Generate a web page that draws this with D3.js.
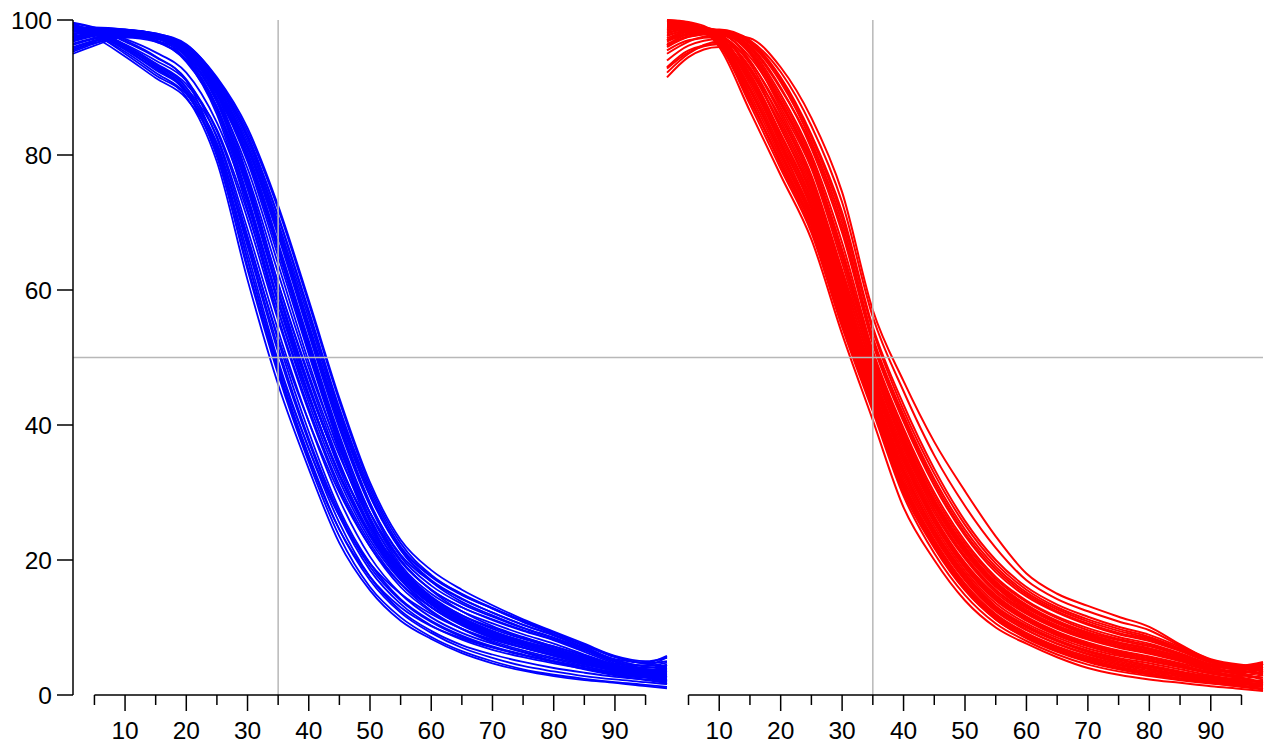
<!DOCTYPE html>
<html>
<head>
<meta charset="utf-8">
<script src="https://cdn.jsdelivr.net/npm/d3@7"></script>
<style>
  body { margin: 0; background: #fff; }
  svg { display: block; }
  text { font-family: "Liberation Sans", Arial, Helvetica, sans-serif; fill: #000; }
</style>
</head>
<body>
<svg id="chart" width="1266" height="747"></svg>
<script>
// Sample positions shared by every curve
const xValues = [1.5, 5, 10, 15, 20, 25, 30, 35, 40, 45, 50, 55, 60, 65, 70, 75, 80, 85, 90, 95, 98.5];

const yTickValues = [0, 20, 40, 60, 80, 100];
const xMajorTicks = [10, 20, 30, 40, 50, 60, 70, 80, 90];
const xMinorTicks = [5, 15, 25, 35, 45, 55, 65, 75, 85, 95];
const refX = 35;
const refY = 50;

// Blue runs (left panel)
const blueCurves = [
  [99.0, 97.9, 95.0, 91.8, 88.6, 79.0, 61.5, 46.0, 33.5, 22.5, 15.5, 11.0, 8.3, 6.2, 4.7, 3.6, 2.8, 2.2, 1.8, 1.3, 1.0],
  [99.4, 98.3, 96.0, 93.0, 89.5, 80.0, 63.0, 47.5, 34.5, 23.5, 16.0, 11.5, 8.6, 6.5, 5.0, 3.8, 3.0, 2.4, 1.9, 1.5, 1.2],
  [98.8, 98.0, 95.8, 93.2, 89.2, 80.5, 64.5, 48.5, 35.5, 24.5, 17.0, 12.2, 9.2, 7.0, 5.5, 4.3, 3.5, 2.8, 2.3, 1.9, 1.6],
  [99.2, 98.5, 96.3, 93.5, 90.0, 81.0, 65.5, 49.5, 36.5, 25.5, 17.5, 12.5, 9.5, 7.4, 6.0, 4.9, 4.0, 3.3, 2.7, 2.3, 2.0],
  [98.6, 97.8, 95.3, 92.2, 89.0, 81.5, 66.5, 50.8, 37.5, 26.5, 18.5, 13.5, 10.3, 8.2, 6.7, 5.6, 4.7, 3.9, 3.2, 2.6, 2.2],
  [99.5, 98.8, 96.8, 94.5, 91.2, 82.5, 68.0, 52.5, 39.0, 27.5, 19.5, 14.2, 11.0, 8.8, 7.2, 6.0, 5.0, 4.0, 3.2, 2.6, 2.4],
  [99.0, 98.2, 96.0, 93.3, 90.0, 82.8, 69.0, 54.0, 40.5, 29.0, 20.5, 15.0, 11.5, 9.2, 7.6, 6.4, 5.3, 4.3, 3.4, 3.2, 3.6],
  [98.9, 98.4, 96.4, 94.0, 91.0, 83.5, 70.5, 55.5, 42.0, 30.5, 22.0, 16.0, 12.3, 9.8, 8.0, 6.6, 5.5, 4.5, 3.6, 3.0, 2.8],
  [99.3, 98.1, 95.6, 92.6, 89.3, 79.8, 63.5, 48.0, 35.0, 24.5, 17.5, 13.0, 10.2, 8.4, 7.0, 5.9, 5.0, 4.2, 3.4, 3.0, 3.3],
  [98.7, 97.9, 95.7, 92.8, 89.6, 81.8, 67.0, 51.5, 38.0, 27.0, 19.0, 14.0, 10.8, 8.6, 7.1, 5.9, 4.9, 3.8, 2.9, 2.2, 1.8],
  [99.6, 98.9, 97.0, 94.6, 91.0, 80.8, 64.5, 49.0, 36.5, 26.5, 19.5, 15.0, 12.0, 9.8, 8.2, 7.0, 6.0, 5.0, 4.0, 3.4, 3.8],
  [98.5, 97.4, 94.6, 91.4, 88.4, 81.0, 67.5, 53.0, 40.5, 30.0, 22.0, 16.5, 13.0, 10.6, 8.8, 7.5, 6.4, 5.3, 4.2, 3.3, 2.7],
  [99.1, 98.3, 96.2, 93.6, 90.5, 83.8, 71.5, 57.0, 44.0, 32.5, 24.0, 18.0, 14.0, 11.3, 9.4, 8.0, 6.8, 5.6, 4.3, 3.6, 3.9],
  [98.9, 98.6, 97.2, 95.2, 92.2, 84.8, 73.0, 58.5, 45.5, 34.0, 25.0, 18.8, 14.6, 11.8, 9.8, 8.3, 7.0, 5.6, 4.2, 3.3, 2.6],
  [95.0, 96.2, 97.5, 97.2, 94.0, 86.0, 72.0, 56.0, 42.5, 31.0, 22.5, 16.5, 12.5, 9.8, 7.8, 6.3, 5.0, 3.9, 3.0, 2.6, 2.8],
  [95.5, 96.8, 97.8, 97.5, 94.5, 87.0, 73.5, 58.0, 44.5, 32.5, 23.5, 17.2, 13.0, 10.3, 8.4, 7.0, 5.8, 4.7, 3.7, 3.5, 4.5],
  [96.0, 97.0, 98.0, 97.7, 95.0, 88.0, 75.0, 59.5, 45.5, 34.0, 25.0, 18.3, 14.0, 11.2, 9.2, 7.6, 6.3, 5.0, 3.8, 3.0, 2.5],
  [95.3, 96.5, 97.6, 97.4, 95.2, 88.5, 76.0, 61.0, 47.5, 35.5, 26.0, 19.0, 14.5, 11.5, 9.5, 7.9, 6.6, 5.4, 4.2, 3.6, 4.0],
  [96.3, 97.2, 97.9, 97.0, 93.8, 86.5, 72.8, 57.0, 43.3, 31.8, 23.0, 17.0, 13.0, 10.4, 8.5, 7.0, 5.8, 4.6, 3.5, 2.6, 1.9],
  [95.8, 96.9, 97.7, 97.3, 95.3, 89.0, 77.0, 62.5, 48.5, 36.5, 27.0, 20.0, 15.5, 12.4, 10.2, 8.6, 7.2, 5.8, 4.4, 3.6, 3.2],
  [95.6, 96.6, 97.4, 96.8, 94.2, 87.2, 74.0, 58.5, 44.5, 32.8, 23.8, 17.5, 13.4, 10.6, 8.6, 7.1, 5.9, 4.8, 3.8, 3.2, 3.6],
  [96.5, 97.3, 97.7, 97.0, 94.6, 87.8, 75.5, 60.0, 46.0, 34.2, 25.0, 18.5, 14.2, 11.4, 9.4, 7.8, 6.5, 5.2, 3.9, 2.9, 2.1],
  [97.0, 97.8, 98.2, 97.8, 96.3, 91.5, 84.0, 72.5, 58.5, 44.0, 31.5, 23.0, 18.5, 15.6, 13.3, 11.2, 9.4, 7.6, 5.8, 5.0, 5.5],
  [97.5, 98.2, 98.4, 97.9, 96.0, 91.0, 83.0, 71.0, 57.0, 42.5, 30.5, 22.0, 17.5, 14.8, 12.8, 10.9, 9.2, 7.4, 5.6, 4.6, 4.2],
  [98.0, 98.4, 98.5, 98.0, 96.2, 90.8, 82.5, 70.0, 55.8, 41.5, 29.5, 21.5, 17.0, 14.3, 12.2, 10.4, 8.8, 7.0, 5.2, 4.3, 4.8],
  [98.3, 98.6, 98.5, 97.8, 95.8, 90.3, 81.5, 69.0, 54.5, 40.5, 28.5, 20.5, 16.2, 13.5, 11.6, 9.9, 8.4, 6.8, 5.0, 3.8, 3.0],
  [96.8, 97.6, 98.1, 97.6, 95.6, 90.0, 81.0, 68.0, 53.5, 39.5, 28.0, 20.0, 15.6, 13.0, 11.2, 9.6, 8.2, 6.6, 4.9, 4.0, 4.5],
  [97.2, 97.9, 98.3, 97.7, 95.5, 89.7, 80.5, 67.0, 52.5, 38.5, 27.0, 19.3, 15.0, 12.4, 10.6, 9.0, 7.6, 6.0, 4.5, 3.4, 2.6],
  [98.6, 98.8, 98.6, 97.9, 95.7, 89.5, 79.8, 66.0, 51.5, 37.5, 26.3, 18.8, 14.4, 11.8, 10.0, 8.5, 7.2, 5.9, 4.6, 4.4, 5.6],
  [97.8, 98.3, 98.4, 97.6, 95.3, 89.0, 79.0, 65.0, 50.5, 36.8, 25.6, 18.2, 13.8, 11.2, 9.4, 8.0, 6.8, 5.5, 4.2, 3.3, 3.0],
  [96.9, 97.7, 98.0, 97.3, 94.8, 88.3, 78.0, 63.8, 49.3, 36.0, 25.0, 17.8, 13.5, 11.0, 9.2, 7.8, 6.6, 5.3, 4.0, 3.0, 2.2],
  [97.6, 98.1, 98.3, 97.7, 96.0, 90.6, 82.0, 69.5, 55.0, 41.0, 29.5, 21.8, 17.6, 15.0, 12.9, 11.0, 9.3, 7.2, 5.3, 4.8, 5.8],
  [98.2, 98.5, 98.4, 97.6, 95.4, 89.6, 80.0, 66.5, 52.0, 38.0, 27.0, 19.8, 15.6, 13.0, 11.1, 9.5, 8.1, 6.4, 4.7, 3.8, 3.9],
  [97.3, 98.0, 98.2, 97.5, 95.0, 88.0, 76.5, 61.0, 47.0, 34.5, 24.5, 17.8, 13.6, 10.9, 9.0, 7.5, 6.2, 5.0, 3.8, 2.8, 2.0],
  [97.9, 98.4, 98.5, 98.0, 96.4, 91.3, 83.5, 72.0, 58.0, 43.5, 31.0, 22.5, 17.8, 14.9, 12.8, 10.8, 9.0, 7.0, 5.0, 3.8, 3.4],
  [98.4, 98.6, 98.0, 96.8, 94.0, 87.0, 75.0, 60.0, 46.0, 33.5, 24.0, 17.5, 13.4, 10.7, 8.8, 7.3, 6.0, 4.8, 3.6, 2.7, 1.6],
  [98.8, 98.9, 98.6, 97.9, 96.2, 91.0, 82.8, 70.8, 56.5, 42.0, 30.0, 21.5, 16.8, 13.8, 11.8, 10.0, 8.5, 6.9, 5.2, 4.2, 4.0],
  [97.0, 97.8, 98.2, 97.5, 95.2, 89.2, 79.5, 65.8, 51.0, 37.0, 25.8, 18.0, 13.6, 10.9, 9.0, 7.6, 6.4, 5.2, 4.0, 3.2, 2.8],
  [97.4, 98.0, 98.2, 97.6, 95.7, 90.2, 81.2, 68.5, 54.0, 40.0, 28.3, 20.8, 16.8, 14.2, 12.2, 10.4, 8.9, 7.4, 5.7, 4.7, 5.0]
];

// Red runs (right panel)
const redCurves = [
  [99.8, 99.5, 96.0, 86.5, 77.0, 67.5, 53.5, 40.7, 27.8, 20.0, 14.0, 10.0, 7.6, 5.6, 4.0, 3.0, 2.3, 1.8, 1.3, 0.9, 0.6],
  [100.0, 99.6, 96.5, 87.5, 78.0, 68.5, 54.5, 42.0, 29.5, 21.0, 14.8, 10.6, 8.0, 6.0, 4.5, 3.5, 2.8, 2.2, 1.7, 1.3, 1.2],
  [99.2, 99.0, 96.8, 88.5, 78.5, 69.0, 55.0, 42.5, 30.0, 21.8, 15.5, 11.2, 8.4, 6.4, 4.9, 3.8, 3.0, 2.4, 1.9, 1.6, 1.8],
  [99.6, 99.4, 97.0, 89.0, 79.5, 70.0, 56.0, 43.0, 31.0, 22.5, 16.0, 11.6, 8.8, 6.8, 5.3, 4.2, 3.4, 2.7, 2.1, 1.6, 1.3],
  [98.5, 99.0, 97.3, 89.8, 80.0, 70.5, 56.8, 43.6, 31.5, 23.0, 16.5, 12.0, 9.2, 7.2, 5.7, 4.6, 3.8, 3.0, 2.3, 1.9, 2.2],
  [93.0, 95.5, 96.5, 91.0, 81.5, 71.0, 57.0, 44.0, 32.0, 23.5, 17.0, 12.4, 9.6, 7.6, 6.1, 5.0, 4.1, 3.3, 2.6, 2.4, 3.0],
  [91.5, 94.5, 96.0, 91.5, 82.0, 72.0, 57.5, 44.5, 33.0, 24.2, 17.5, 12.8, 10.0, 8.0, 6.4, 5.3, 4.4, 3.5, 2.7, 2.0, 1.5],
  [99.9, 99.3, 97.5, 90.5, 81.0, 71.5, 58.0, 45.0, 33.5, 24.5, 18.0, 13.2, 10.3, 8.2, 6.6, 5.5, 4.7, 3.8, 2.9, 2.2, 1.9],
  [97.0, 98.2, 97.8, 92.0, 83.0, 73.0, 59.0, 45.5, 34.0, 25.0, 18.4, 13.6, 10.6, 8.5, 6.9, 5.8, 5.0, 4.1, 3.2, 2.8, 3.6],
  [98.8, 99.0, 97.6, 91.5, 82.5, 72.5, 58.5, 46.0, 34.5, 25.5, 18.8, 14.0, 11.0, 8.8, 7.2, 6.0, 5.1, 4.2, 3.2, 2.5, 2.0],
  [92.2, 95.0, 96.8, 93.0, 84.0, 74.0, 60.0, 46.5, 35.0, 26.0, 19.2, 14.4, 11.3, 9.1, 7.5, 6.3, 5.4, 4.4, 3.4, 2.9, 3.4],
  [99.4, 99.2, 97.9, 92.5, 84.5, 75.0, 61.0, 47.0, 35.5, 26.5, 19.6, 14.8, 11.6, 9.4, 7.8, 6.6, 5.7, 4.7, 3.6, 2.6, 1.7],
  [95.5, 97.0, 97.5, 93.5, 85.0, 75.5, 61.5, 47.5, 36.0, 27.0, 20.2, 15.2, 12.0, 9.8, 8.2, 7.0, 6.1, 5.0, 3.8, 3.4, 4.2],
  [98.0, 98.7, 98.2, 94.0, 86.0, 76.5, 62.5, 48.0, 36.5, 27.5, 20.6, 15.6, 12.4, 10.1, 8.5, 7.3, 6.4, 5.2, 3.9, 3.0, 2.6],
  [96.3, 97.8, 98.0, 95.0, 87.0, 78.0, 64.0, 49.0, 37.5, 28.3, 21.3, 16.2, 12.9, 10.6, 8.9, 7.7, 6.8, 5.6, 4.2, 3.4, 3.9],
  [99.0, 99.1, 98.3, 95.3, 88.0, 79.0, 65.5, 50.0, 38.5, 29.0, 22.0, 16.8, 13.4, 11.0, 9.3, 8.1, 7.2, 5.9, 4.4, 3.6, 3.1],
  [97.3, 98.3, 98.4, 95.8, 89.0, 80.0, 67.0, 51.0, 39.5, 30.0, 22.8, 17.5, 14.0, 11.6, 9.9, 8.6, 7.6, 6.2, 4.6, 4.0, 4.7],
  [96.0, 97.5, 98.2, 96.2, 90.0, 81.0, 68.5, 52.0, 40.5, 31.0, 23.6, 18.2, 14.6, 12.2, 10.4, 9.0, 8.0, 6.5, 4.8, 4.1, 4.4],
  [98.4, 98.8, 98.5, 96.5, 90.8, 82.0, 70.0, 53.0, 41.5, 32.0, 24.5, 19.0, 15.2, 12.7, 10.9, 9.5, 8.4, 6.8, 5.0, 4.2, 4.0],
  [97.0, 98.0, 98.3, 96.8, 91.5, 83.0, 71.5, 54.5, 43.0, 33.5, 25.8, 20.0, 16.0, 13.4, 11.6, 10.1, 8.9, 7.1, 5.1, 4.3, 4.6],
  [96.5, 97.5, 98.0, 97.3, 93.0, 85.5, 74.5, 57.0, 46.5, 37.5, 30.2, 23.5, 18.0, 15.0, 13.2, 11.6, 10.1, 7.5, 5.2, 4.4, 4.9],
  [97.8, 98.4, 98.6, 97.0, 92.3, 84.3, 73.0, 56.0, 45.0, 35.5, 28.0, 21.8, 17.0, 14.2, 12.4, 10.9, 9.6, 7.3, 5.3, 4.5, 4.3],
  [99.5, 99.3, 98.0, 92.8, 85.5, 76.0, 62.0, 48.5, 37.0, 27.5, 20.5, 15.5, 12.2, 10.0, 8.4, 7.2, 6.3, 5.2, 3.9, 3.2, 3.8],
  [94.0, 96.2, 97.2, 93.8, 86.5, 77.0, 63.0, 49.0, 37.2, 28.0, 21.0, 16.0, 12.6, 10.3, 8.7, 7.5, 6.6, 5.4, 4.0, 3.0, 2.3],
  [99.7, 99.5, 97.2, 90.0, 80.5, 71.0, 57.2, 44.2, 32.5, 23.8, 17.2, 12.6, 9.7, 7.6, 6.0, 4.8, 3.9, 3.1, 2.4, 1.8, 1.4],
  [98.2, 98.6, 97.7, 92.8, 84.0, 74.5, 60.5, 46.8, 35.3, 26.2, 19.4, 14.6, 11.4, 9.2, 7.6, 6.4, 5.5, 4.5, 3.5, 3.6, 4.6],
  [96.8, 97.9, 98.1, 95.5, 88.5, 79.5, 66.0, 50.5, 39.0, 29.5, 22.4, 17.2, 13.8, 11.4, 9.6, 8.3, 7.4, 6.0, 4.5, 3.6, 3.0],
  [99.1, 98.9, 96.3, 88.0, 78.8, 69.5, 55.5, 42.8, 30.5, 22.2, 15.8, 11.4, 8.6, 6.6, 5.1, 4.0, 3.2, 2.5, 2.0, 1.4, 0.9],
  [100.0, 99.7, 97.8, 91.0, 81.8, 72.2, 58.2, 44.8, 33.2, 24.4, 17.8, 13.0, 10.1, 8.0, 6.4, 5.2, 4.3, 3.4, 2.6, 1.9, 1.5],
  [95.0, 96.8, 97.8, 94.5, 87.5, 78.5, 65.0, 50.0, 38.0, 28.8, 21.8, 16.6, 13.2, 10.8, 9.1, 7.8, 6.9, 5.7, 4.3, 3.9, 4.6],
  [98.6, 99.0, 98.4, 96.0, 89.8, 81.5, 69.2, 52.5, 41.0, 31.5, 24.0, 18.6, 14.9, 12.4, 10.6, 9.2, 8.2, 6.6, 4.9, 4.2, 4.2],
  [92.8, 95.2, 96.4, 92.0, 83.2, 73.5, 59.5, 46.2, 34.8, 25.8, 19.0, 14.2, 11.1, 8.9, 7.3, 6.1, 5.2, 4.2, 3.3, 2.4, 1.8],
  [99.3, 99.2, 97.0, 89.5, 80.2, 70.8, 56.5, 43.4, 31.2, 22.8, 16.2, 11.8, 9.0, 7.0, 5.5, 4.4, 3.6, 2.9, 2.2, 1.7, 1.6],
  [97.6, 98.5, 98.5, 96.6, 91.2, 82.6, 70.8, 54.0, 42.2, 32.8, 25.2, 19.5, 15.6, 13.0, 11.2, 9.8, 8.6, 6.9, 5.0, 4.0, 3.6],
  [96.2, 97.6, 98.0, 95.2, 87.8, 78.6, 64.8, 49.6, 38.0, 28.6, 21.5, 16.4, 13.0, 10.7, 9.0, 7.8, 6.9, 5.7, 4.4, 3.8, 4.2],
  [99.8, 99.4, 96.7, 88.3, 79.0, 69.8, 55.8, 43.2, 30.8, 22.0, 15.6, 11.2, 8.5, 6.5, 5.0, 3.9, 3.1, 2.4, 1.8, 1.2, 0.8]
];

const svg = d3.select("#chart");
const plotTop = 20, plotBottom = 695;
const y = d3.scaleLinear().domain([0, 100]).range([plotBottom, plotTop]);

const panels = [
  { curves: blueCurves, color: "#0000ff", width: 1.8, x: d3.scaleLinear().domain([1.5, 98.5]).range([73, 667]) },
  { curves: redCurves,  color: "#ff0000", width: 2.0, x: d3.scaleLinear().domain([1.5, 98.5]).range([667, 1263]) }
];

const grey = "#b8b8b8";

panels.forEach(p => {
  const line = d3.line()
    .x((d, i) => p.x(xValues[i]))
    .y(d => y(d))
    .curve(d3.curveMonotoneX);

  svg.append("g")
    .selectAll("path")
    .data(p.curves)
    .join("path")
    .attr("d", line)
    .attr("fill", "none")
    .attr("stroke", p.color)
    .attr("stroke-width", p.width)
    .attr("stroke-linejoin", "round");
});

// Reference lines drawn over the runs
svg.append("line")
  .attr("x1", panels[0].x.range()[0]).attr("x2", panels[1].x.range()[1])
  .attr("y1", y(refY)).attr("y2", y(refY))
  .attr("stroke", grey).attr("stroke-width", 1.5);

panels.forEach(p => {
  svg.append("line")
    .attr("x1", p.x(refX)).attr("x2", p.x(refX))
    .attr("y1", plotTop).attr("y2", plotBottom)
    .attr("stroke", grey).attr("stroke-width", 1.5);
});

// Left value axis
const yAxis = svg.append("g");
yAxis.append("line")
  .attr("x1", 73).attr("x2", 73)
  .attr("y1", y(100)).attr("y2", y(0))
  .attr("stroke", "#000").attr("stroke-width", 1.5);
yAxis.selectAll("line.tick")
  .data(yTickValues)
  .join("line")
  .attr("class", "tick")
  .attr("x1", 57).attr("x2", 73)
  .attr("y1", d => y(d)).attr("y2", d => y(d))
  .attr("stroke", "#000").attr("stroke-width", 1.5);
yAxis.selectAll("text")
  .data(yTickValues)
  .join("text")
  .attr("x", 52)
  .attr("y", d => y(d) + 8.5)
  .attr("text-anchor", "end")
  .attr("font-size", 24.5)
  .text(d => d);

// Bottom axes, one per panel
panels.forEach(p => {
  const g = svg.append("g");
  g.append("line")
    .attr("x1", p.x(xMinorTicks[0])).attr("x2", p.x(xMinorTicks[xMinorTicks.length - 1]))
    .attr("y1", plotBottom).attr("y2", plotBottom)
    .attr("stroke", "#000").attr("stroke-width", 1.5);
  g.selectAll("line.minor")
    .data(xMinorTicks)
    .join("line")
    .attr("class", "minor")
    .attr("x1", d => p.x(d)).attr("x2", d => p.x(d))
    .attr("y1", plotBottom).attr("y2", plotBottom + 10)
    .attr("stroke", "#000").attr("stroke-width", 1.5);
  g.selectAll("line.major")
    .data(xMajorTicks)
    .join("line")
    .attr("class", "major")
    .attr("x1", d => p.x(d)).attr("x2", d => p.x(d))
    .attr("y1", plotBottom).attr("y2", plotBottom + 16)
    .attr("stroke", "#000").attr("stroke-width", 1.5);
  g.selectAll("text")
    .data(xMajorTicks)
    .join("text")
    .attr("x", d => p.x(d))
    .attr("y", 739)
    .attr("text-anchor", "middle")
    .attr("font-size", 24.5)
    .text(d => d);
});
</script>
</body>
</html>
